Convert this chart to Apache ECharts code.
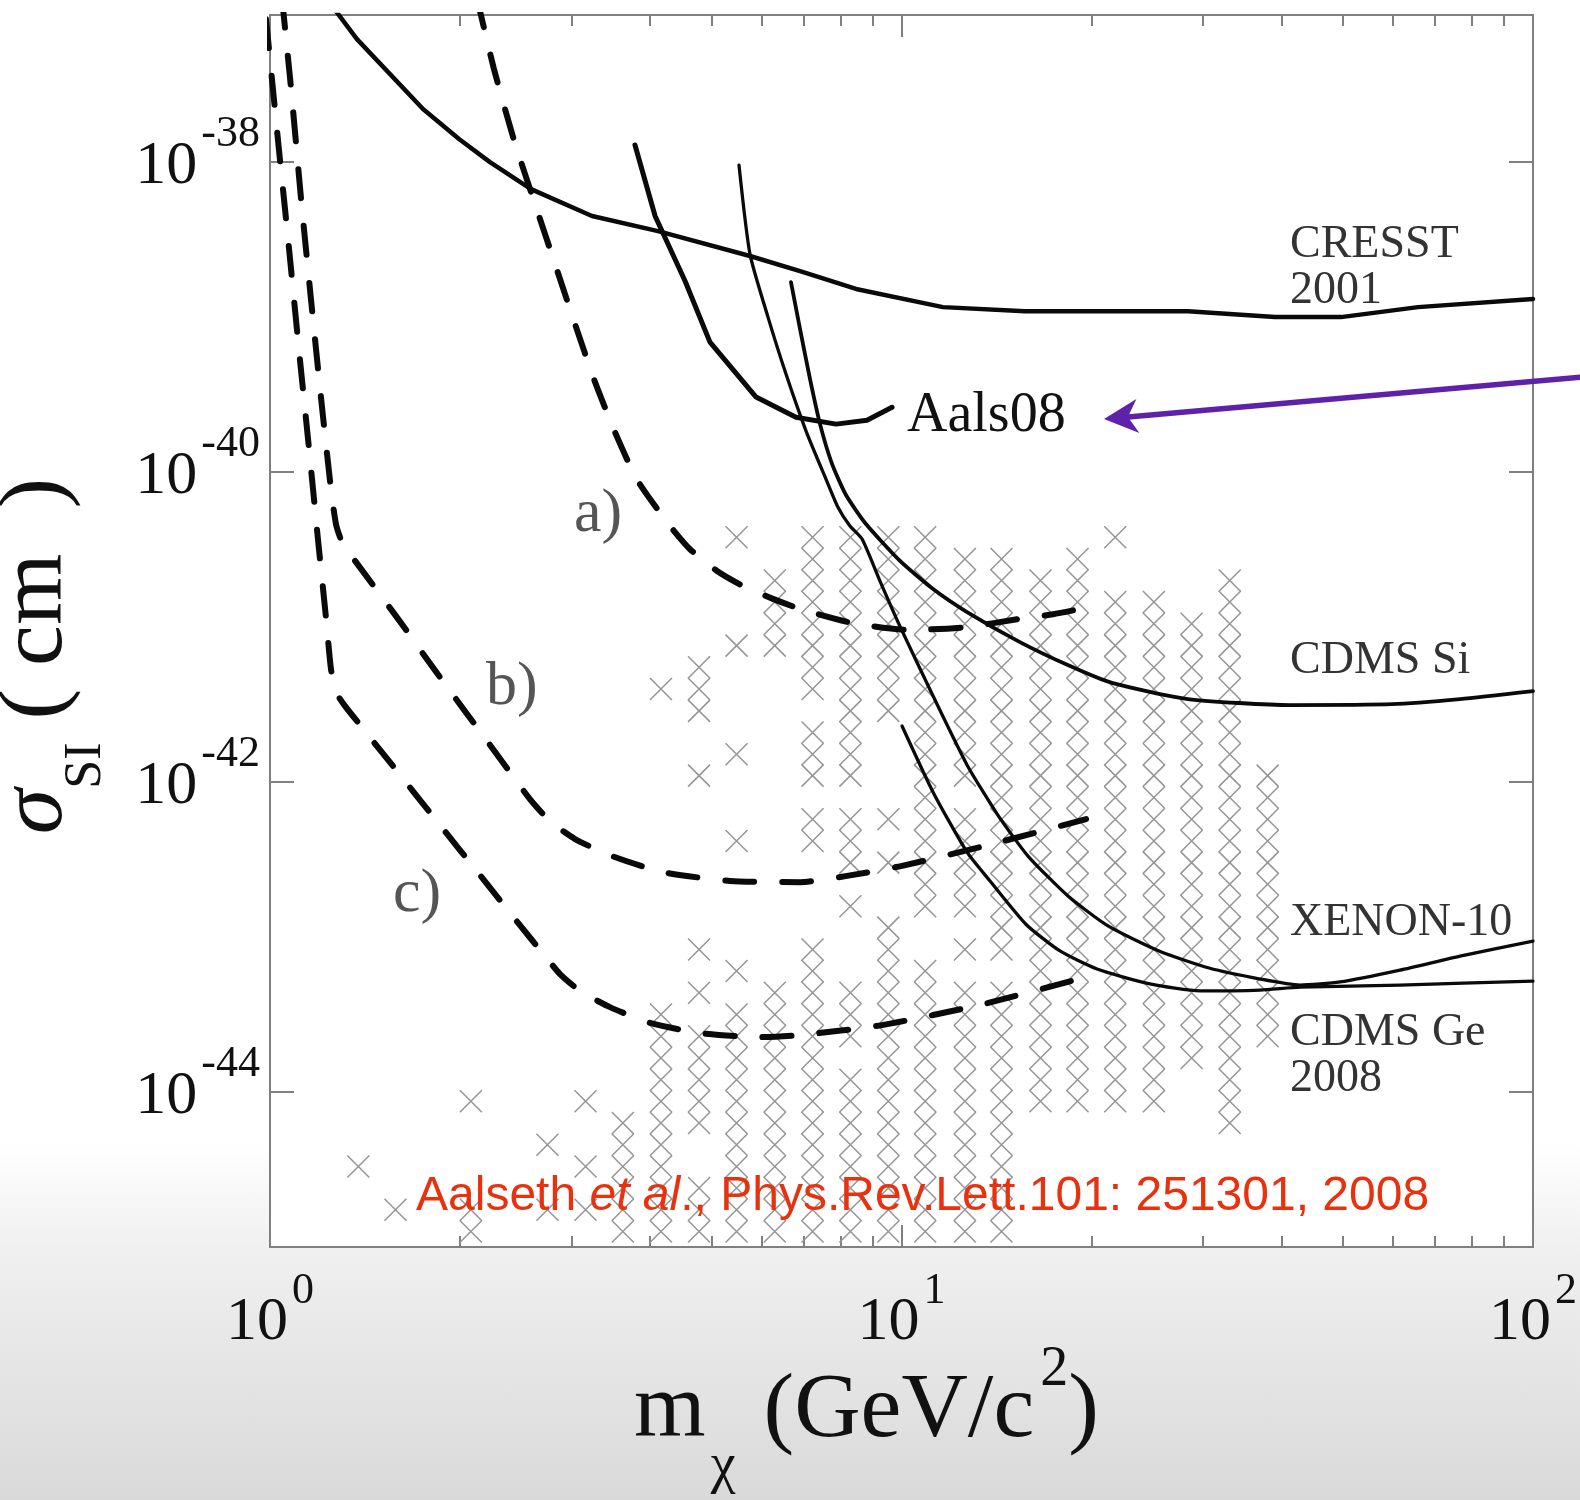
<!DOCTYPE html>
<html>
<head>
<meta charset="utf-8">
<title>Aalseth et al. 2008 - spin-independent WIMP limits</title>
<script src="https://cdn.jsdelivr.net/npm/echarts@6.0.0/dist/echarts.min.js"></script>
<style>
  html, body { margin: 0; padding: 0; }
  body { background: linear-gradient(to bottom, #ffffff 0px, #ffffff 1140px, #f0f0f0 1250px, #d9d9d9 1500px); }
  #chart { width: 1580px; height: 1500px; }
</style>
</head>
<body>
<div id="chart"></div>
<script>
// mass in GeV/c^2, cross section in cm^2
var massRange = [1, 100];
var sigmaRange = [1e-45, 8.9e-38];
var massMajorTicks = [1, 10, 100];
var massMinorTicks = [2, 3, 4, 5, 6, 7, 8, 9, 20, 30, 40, 50, 60, 70, 80, 90];
var sigmaTicks = [1e-38, 1e-40, 1e-42, 1e-44];

var cresst2001 = [[1.249, 1.04e-37], [1.373, 6.22e-38], [1.747, 2.20e-38], [1.992, 1.41e-38],
  [2.230, 1.00e-38], [2.590, 6.70e-39], [3.235, 4.49e-39], [4.116, 3.59e-39], [5.755, 2.48e-39],
  [6.908, 1.98e-39], [8.472, 1.52e-39], [11.63, 1.16e-39], [15.69, 1.09e-39], [28.42, 1.09e-39],
  [39.03, 1.00e-39], [49.66, 1.00e-39], [65.75, 1.16e-39], [100, 1.31e-39]];

var aals08 = [[3.784, 1.29e-38], [4.072, 4.49e-39], [4.542, 1.71e-39], [4.974, 6.90e-40],
  [5.884, 3.05e-40], [6.806, 2.26e-40], [7.876, 2.04e-40], [8.818, 2.16e-40], [9.661, 2.62e-40]];

var xenon10 = [[5.529, 9.57e-39], [5.755, 2.55e-39], [6.146, 1.00e-39], [6.563, 4.29e-40],
  [7.061, 1.84e-40], [7.592, 9.02e-41], [7.932, 5.94e-41], [8.288, 4.49e-41], [8.661, 3.70e-41],
  [9.246, 1.98e-41], [9.945, 1.01e-41], [11.22, 3.59e-42], [12.70, 1.29e-42], [14.21, 6.12e-43],
  [15.86, 3.33e-43], [18.35, 1.84e-43], [21.23, 1.18e-43], [25.57, 8.13e-44], [30.69, 6.31e-44],
  [36.96, 5.36e-44], [42.76, 4.90e-44], [49.48, 5.13e-44], [61.57, 6.12e-44], [76.64, 7.53e-44],
  [100, 9.42e-44]];

var cdmsSi = [[6.683, 1.68e-39], [6.908, 8.38e-40], [7.164, 3.98e-40], [7.430, 2.04e-40],
  [7.762, 1.13e-40], [8.168, 7.11e-41], [8.786, 4.62e-41], [9.945, 2.67e-41], [11.22, 1.76e-41],
  [12.70, 1.25e-41], [15.40, 8.00e-42], [18.49, 5.60e-42], [21.54, 4.36e-42], [28.42, 3.43e-42],
  [41.23, 3.14e-42], [59.81, 3.18e-42], [76.64, 3.43e-42], [100, 3.86e-42]];

var cdmsGe = [[10.02, 2.30e-42], [11.22, 8.61e-43], [12.70, 3.53e-43], [13.81, 2.30e-43],
  [15.74, 1.21e-43], [17.82, 8.13e-44], [20.40, 6.22e-44], [24.75, 4.98e-44], [29.70, 4.49e-44],
  [36.96, 4.55e-44], [42.76, 4.75e-44], [61.57, 4.90e-44], [100, 5.20e-44]];

var projA = [[2.128, 1.13e-37], [2.263, 3.98e-38], [2.434, 1.39e-38], [2.619, 5.60e-39],
  [2.817, 2.30e-39], [3.030, 9.42e-40], [3.271, 3.81e-40], [3.518, 1.81e-40], [3.784, 9.42e-41],
  [3.968, 7.00e-41], [4.299, 4.49e-41], [4.625, 3.18e-41], [5.104, 2.30e-41], [5.610, 1.84e-41],
  [6.259, 1.52e-41], [6.908, 1.31e-41], [8.380, 1.06e-41], [10.31, 9.57e-42], [12.70, 1.00e-41],
  [15.40, 1.13e-41], [17.38, 1.21e-41], [20.10, 1.36e-41]];

var projB = [[1.045, 1.13e-37], [1.080, 2.96e-38], [1.120, 5.77e-39], [1.161, 1.31e-39],
  [1.205, 2.96e-40], [1.249, 7.76e-41], [1.272, 4.62e-41], [1.300, 3.53e-41], [1.339, 2.96e-41],
  [1.595, 1.13e-41], [1.858, 4.75e-42], [2.190, 1.92e-42], [2.580, 7.76e-43], [2.776, 5.60e-43],
  [3.041, 4.29e-43], [3.480, 3.33e-43], [4.193, 2.62e-43], [5.351, 2.30e-43], [6.908, 2.26e-43],
  [8.199, 2.48e-43], [9.982, 2.87e-43], [13.51, 3.86e-43], [19.60, 5.77e-43]];

var projC = [[0.9855, 8.37e-38], [1.000, 4.62e-38], [1.033, 1.21e-38], [1.072, 2.75e-39],
  [1.111, 6.22e-40], [1.153, 1.41e-40], [1.191, 3.70e-41], [1.227, 1.13e-41], [1.249, 5.36e-42],
  [1.272, 3.81e-42], [1.315, 3.09e-42], [1.398, 2.26e-42], [1.607, 1.11e-42], [1.858, 5.28e-43],
  [2.150, 2.51e-43], [2.489, 1.19e-43], [2.726, 7.53e-44], [2.879, 5.77e-44], [3.097, 4.49e-44],
  [3.454, 3.53e-44], [3.997, 2.79e-44], [4.797, 2.40e-44], [5.969, 2.26e-44], [6.908, 2.33e-44],
  [9.314, 2.70e-44], [13.51, 3.70e-44], [19.60, 5.52e-44]];

// model scan: grid columns (mass) and rows (cross section), filled cells per column
var scanMass = [1.38, 1.58, 1.82, 2.08, 2.39, 2.75, 3.16, 3.62, 4.16, 4.78, 5.48, 6.30, 7.23,
  8.30, 9.53, 10.9, 12.6, 14.4, 16.6, 19.0, 21.8, 25.1, 28.8, 33.1, 38.0];
var scanSigma = [3.80e-41, 2.75e-41, 2.00e-41, 1.45e-41, 1.05e-41, 7.59e-42, 5.50e-42, 3.98e-42,
  2.88e-42, 2.09e-42, 1.51e-42, 1.10e-42, 7.94e-43, 5.75e-43, 4.17e-43, 3.02e-43, 2.19e-43,
  1.58e-43, 1.15e-43, 8.32e-44, 6.03e-44, 4.37e-44, 3.16e-44, 2.29e-44, 1.66e-44, 1.20e-44,
  8.71e-45, 6.31e-45, 4.57e-45, 3.31e-45, 2.40e-45, 1.74e-45, 1.26e-45];
var scanRuns = [
  [[29, 29]], [[31, 31]], [], [[26, 26], [31, 32]], [], [[28, 28], [31, 31]],
  [[26, 26], [29, 29], [31, 31]], [[27, 32]], [[7, 7], [22, 32]],
  [[6, 8], [11, 11], [19, 19], [21, 21], [23, 27], [30, 32]],
  [[0, 0], [5, 5], [10, 10], [14, 14], [20, 20], [22, 32]],
  [[2, 5], [21, 32]],
  [[0, 7], [9, 11], [13, 14], [19, 32]],
  [[0, 11], [13, 15], [17, 17], [21, 23], [25, 32]],
  [[0, 8], [13, 13], [15, 15], [18, 32]],
  [[0, 17], [20, 32]],
  [[1, 11], [13, 17], [19, 19], [21, 32]],
  [[1, 19], [21, 32]],
  [[2, 26]], [[1, 26]], [[0, 0], [3, 26]], [[3, 26]], [[4, 24]], [[2, 27]], [[11, 23]]
];

function lg(v) { return Math.log10(v); }
function toLog(pairs) { return pairs.map(function (p) { return [lg(p[0]), lg(p[1])]; }); }

var scanPoints = [];
scanRuns.forEach(function (runs, k) {
  runs.forEach(function (r) {
    for (var j = r[0]; j <= r[1]; j++) scanPoints.push([lg(scanMass[k]), lg(scanSigma[j])]);
  });
});

var SERIF = '"Liberation Serif", "DejaVu Serif", serif';
var SANS = '"Liberation Sans", Arial, sans-serif';
var TICK = '#808080';

var xMin = lg(massRange[0]), xMax = lg(massRange[1]);
var yMin = lg(sigmaRange[0]), yMax = lg(sigmaRange[1]);

function xAxisDef(pos, ticks, len, labels) {
  return {
    type: 'value', position: pos, min: xMin, max: xMax,
    axisLine: { show: false, onZero: false }, splitLine: { show: false },
    nameMoveOverlap: false,
    axisTick: { show: true, inside: true, length: len, customValues: ticks.map(lg),
      lineStyle: { color: TICK, width: 2 } },
    axisLabel: labels ? {
      show: true, margin: 22, customValues: massMajorTicks.map(lg),
      formatter: function (v) { return '{b|10}{s|' + Math.round(v) + '}'; },
      rich: {
        b: { fontFamily: SERIF, fontSize: 62, color: '#111', height: 62, lineHeight: 84.5,
             padding: [22.5, 0, 0, 0], verticalAlign: 'top' },
        s: { fontFamily: SERIF, fontSize: 44, color: '#111', height: 44, lineHeight: 44,
             padding: [0, 0, 0, 4], verticalAlign: 'top' }
      }
    } : { show: false }
  };
}
function yAxisDef(pos, labels) {
  return {
    type: 'value', position: pos, min: yMin, max: yMax,
    axisLine: { show: false, onZero: false }, splitLine: { show: false },
    nameMoveOverlap: false,
    axisTick: { show: true, inside: true, length: 24, customValues: sigmaTicks.map(lg),
      lineStyle: { color: TICK, width: 2 } },
    axisLabel: labels ? {
      show: true, margin: 10, customValues: sigmaTicks.map(lg),
      formatter: function (v) { return '{b|10}{s|' + Math.round(v) + '}'; },
      rich: {
        b: { fontFamily: SERIF, fontSize: 62, color: '#111', height: 62, lineHeight: 100,
             padding: [23.5, 0, 0, 0], verticalAlign: 'top' },
        s: { fontFamily: SERIF, fontSize: 44, color: '#111', height: 44, lineHeight: 44,
             padding: [0, 0, 0, 4], verticalAlign: 'top' }
      }
    } : { show: false }
  };
}

var xMain = xAxisDef('bottom', massMajorTicks, 22, true);
xMain.name = '{m|m}{sub|χ}{t|(GeV/c}{sup|2}{e|)}';
xMain.nameLocation = 'middle';
xMain.nameGap = 108;
xMain.nameTextStyle = {
  color: '#111', fontFamily: SERIF,
  rich: {
    m: { fontFamily: SERIF, fontSize: 92, color: '#111', height: 92, lineHeight: 92, padding: [11, 0, 0, 0], verticalAlign: 'top' },
    sub: { fontFamily: SERIF, fontSize: 56, color: '#111', height: 56, lineHeight: 140, padding: [84, 28, 0, 5], verticalAlign: 'top' },
    t: { fontFamily: SERIF, fontSize: 92, color: '#111', height: 92, lineHeight: 92, padding: [11, 0, 0, 0], verticalAlign: 'top' },
    sup: { fontFamily: SERIF, fontSize: 56, color: '#111', height: 30, lineHeight: 30, padding: [0, 0, 0, 6], verticalAlign: 'top' },
    e: { fontFamily: SERIF, fontSize: 92, color: '#111', height: 92, lineHeight: 92, padding: [11, 70, 0, 0], verticalAlign: 'top' }
  }
};

var yMain = yAxisDef('left', true);
yMain.name = '{sig|σ}{sub|SI}{m| ( cm}{sup|2}{e| )}';
yMain.nameLocation = 'middle';
yMain.nameGap = 158;
yMain.nameRotate = 90;
yMain.nameTextStyle = {
  color: '#111', fontFamily: SERIF,
  rich: {
    sig: { fontFamily: SERIF, fontStyle: 'italic', fontSize: 92, color: '#111', height: 92, lineHeight: 92, padding: [14, 0, 0, 0], verticalAlign: 'top' },
    sub: { fontFamily: SERIF, fontSize: 52, color: '#111', height: 52, lineHeight: 135, padding: [83, 0, 0, 0], verticalAlign: 'top' },
    m: { fontFamily: SERIF, fontSize: 92, color: '#111', height: 92, lineHeight: 92, padding: [14, 0, 0, 0], verticalAlign: 'top' },
    sup: { fontFamily: SERIF, fontSize: 44, color: '#111', height: 14, lineHeight: 14, padding: [0, 0, 0, 0], verticalAlign: 'top' },
    e: { fontFamily: SERIF, fontSize: 92, color: '#111', height: 92, lineHeight: 92, padding: [14, 50, 0, 0], verticalAlign: 'top' }
  }
};

function solid(name, data, width, smooth) {
  return { name: name, type: 'line', data: toLog(data), showSymbol: false, symbol: 'none',
    smooth: smooth, clip: true, silent: true,
    lineStyle: { color: '#0a0a0a', width: width, cap: 'round', join: 'round' } };
}
function dashed(name, data) {
  return { name: name, type: 'line', data: toLog(data), showSymbol: false, symbol: 'none',
    smooth: 0.2, clip: true, silent: true,
    lineStyle: { color: '#0a0a0a', width: 6, type: [29, 28], cap: 'round', join: 'round' } };
}

function txt(text, x, y, size, color, extra) {
  var st = { text: text, x: x, y: y, fill: color, fontSize: size, fontFamily: SERIF,
    align: 'left', verticalAlign: 'middle', textAlign: 'left', textVerticalAlign: 'middle' };
  if (extra) for (var k in extra) st[k] = extra[k];
  return { type: 'text', z: 100, silent: true, style: st };
}

var arrowColor = '#5d22a9';

var option = {
  animation: false,
  grid: { left: 270, right: 47, top: 15, bottom: 253, show: true, backgroundColor: '#ffffff',
    borderColor: '#7f7f7f', borderWidth: 2, containLabel: false, outerBoundsMode: 'none' },
  xAxis: [xMain, xAxisDef('bottom', massMinorTicks, 11, false),
          xAxisDef('top', massMajorTicks, 22, false), xAxisDef('top', massMinorTicks, 11, false)],
  yAxis: [yMain, yAxisDef('right', false)],
  series: [
    { name: 'models', type: 'scatter', data: scanPoints, silent: true,
      symbol: 'path://M0,0L10,10M10,0L0,10', symbolSize: 22,
      itemStyle: { color: 'rgba(0,0,0,0)', borderColor: '#959595', borderWidth: 1.5, opacity: 1 } },
    dashed('a)', projA),
    dashed('b)', projB),
    dashed('c)', projC),
    solid('CRESST 2001', cresst2001, 4.5, false),
    solid('Aals08', aals08, 5, false),
    solid('XENON-10', xenon10, 3.3, 0.2),
    solid('CDMS Si', cdmsSi, 3.8, 0.2),
    solid('CDMS Ge 2008', cdmsGe, 3.3, 0.2)
  ],
  graphic: [
    txt('CRESST', 1290, 245, 46, '#333'),
    txt('2001', 1290, 291, 46, '#333'),
    txt('CDMS Si', 1290, 661, 46, '#333'),
    txt('XENON-10', 1290, 923, 46, '#333'),
    txt('CDMS Ge', 1290, 1033, 46, '#333'),
    txt('2008', 1290, 1079, 46, '#333'),
    txt('Aals08', 907, 416, 56, '#111'),
    txt('a)', 574, 515, 62, '#555'),
    txt('b)', 486, 688, 62, '#555'),
    txt('c)', 393, 895, 62, '#555'),
    txt('{n|Aalseth }{i|et al}{n|., Phys.Rev.Lett.101: 251301, 2008}', 416, 1197, 48, '#e8310f', {
      fontFamily: SANS,
      rich: {
        n: { fontFamily: SANS, fontSize: 48, fill: '#e8310f', color: '#e8310f' },
        i: { fontFamily: SANS, fontSize: 48, fontStyle: 'italic', fill: '#e8310f', color: '#e8310f' }
      }
    }),
    { type: 'line', z: 100, silent: true,
      shape: { x1: 1582, y1: 377, x2: 1128, y2: 417 },
      style: { stroke: arrowColor, lineWidth: 5.5 } },
    { type: 'polygon', z: 100, silent: true,
      shape: { points: [[1104, 419], [1136.4, 399.1], [1127.9, 416.9], [1139.4, 432.9]] },
      style: { fill: arrowColor } }
  ]
};

var chartDom = document.getElementById('chart');
var myChart = echarts.init(chartDom, null, { renderer: 'canvas' });
myChart.setOption(option);
</script>
</body>
</html>
